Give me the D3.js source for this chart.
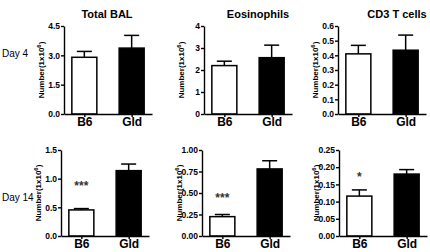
<!DOCTYPE html>
<html>
<head>
  <meta charset="utf-8">
  <script src="https://cdn.jsdelivr.net/npm/d3@7"></script>
  <style>
    body { margin: 0; background: #fff; }
    text { font-family: Arial, "Liberation Sans", sans-serif; }
    .axis path, .axis line { stroke: #000; stroke-width: 1.4px; }
    .axis text { font-size: 8.5px; font-weight: bold; fill: #000; }
    .xaxis text { font-size: 12px; }
  </style>
</head>
<body>
<svg id="chart" width="430" height="252"></svg>
<script>
  // groups on the x axis
  var groups = ['B6', 'Gld'];
  var titles = ['Total BAL', 'Eosinophils', 'CD3 T cells'];
  var days = ['Day 4', 'Day 14'];

  // means and upper error ends, [B6, Gld]
  var day4Means = [[2.9, 3.37], [2.2, 2.56], [0.41, 0.435]];
  var day4Upper = [[3.2, 4.02], [2.4, 3.13], [0.468, 0.538]];
  var day14Means = [[0.455, 1.14], [0.225, 0.78], [0.116, 0.18]];
  var day14Upper = [[0.478, 1.255], [0.25, 0.875], [0.134, 0.193]];

  // y axis tick values per panel
  var day4Ticks = [[0, 1.5, 3.0, 4.5], [0, 1, 2, 3, 4], [0, 0.1, 0.2, 0.3, 0.4, 0.5, 0.6]];
  var day14Ticks = [[0, 0.5, 1.0, 1.5], [0, 0.25, 0.5, 0.75, 1.0], [0, 0.05, 0.1, 0.15, 0.2, 0.25]];
  var day4Fmt = ['.1f', '.0f', '.1f'];
  var day14Fmt = ['.1f', '.2f', '.2f'];
  // significance marks above the B6 bar, and the value they sit at
  var day14Stars = ['***', '***', '*'];
  var day14StarAt = [0.9, 0.47, 0.178];

  var svg = d3.select('#chart');

  var rows = [
    { label: days[0], means: day4Means, upper: day4Upper, ticks: day4Ticks, fmt: day4Fmt, stars: null,
      top: 26, bottom: 114, labelY: 57, axisX: [64, 204, 338] },
    { label: days[1], means: day14Means, upper: day14Upper, ticks: day14Ticks, fmt: day14Fmt,
      stars: day14Stars, starAt: day14StarAt,
      top: 150, bottom: 236, labelY: 201, axisX: [61, 202, 339] }
  ];
  var titleX = [107, 258, 397];
  var plotW = 88, barW = 25;

  rows.forEach(function (row, r) {
    svg.append('text')
      .attr('x', 2).attr('y', row.labelY)
      .style('font-size', '10px')
      .text(row.label);

    titles.forEach(function (title, i) {
      var x0 = row.axisX[i];
      var ticks = row.ticks[i];
      var g = svg.append('g').attr('transform', 'translate(' + x0 + ',0)');

      var x = d3.scalePoint().domain(groups).range([0, plotW]).padding(0.43);
      var y = d3.scaleLinear().domain([0, d3.max(ticks)]).range([row.bottom, row.top]);

      if (r === 0) {
        svg.append('text')
          .attr('x', titleX[i]).attr('y', 18)
          .attr('text-anchor', 'middle')
          .style('font-size', '11px').style('font-weight', 'bold')
          .text(title);
      }

      // bars
      g.selectAll('rect')
        .data(groups)
        .enter()
        .append('rect')
        .attr('x', function (d) { return x(d) - barW / 2; })
        .attr('y', function (d, j) { return y(row.means[i][j]); })
        .attr('width', barW)
        .attr('height', function (d, j) { return row.bottom - y(row.means[i][j]); })
        .attr('fill', function (d, j) { return j === 0 ? '#fff' : '#000'; })
        .attr('stroke', '#000')
        .attr('stroke-width', 1.5);

      // error bars (upper only)
      groups.forEach(function (d, j) {
        var cx = x(d);
        g.append('line')
          .attr('x1', cx).attr('x2', cx)
          .attr('y1', y(row.means[i][j])).attr('y2', y(row.upper[i][j]))
          .attr('stroke', '#000').attr('stroke-width', 1.5);
        g.append('line')
          .attr('x1', cx - 7.5).attr('x2', cx + 7.5)
          .attr('y1', y(row.upper[i][j])).attr('y2', y(row.upper[i][j]))
          .attr('stroke', '#000').attr('stroke-width', 1.5);
      });

      // y axis
      g.append('g')
        .attr('class', 'axis')
        .call(d3.axisLeft(y).tickValues(ticks).tickFormat(d3.format(row.fmt[i]))
          .tickSizeInner(3).tickSizeOuter(0).tickPadding(1));

      // x axis
      g.append('g')
        .attr('class', 'axis xaxis')
        .attr('transform', 'translate(0,' + row.bottom + ')')
        .call(d3.axisBottom(x).tickSizeInner(3).tickSizeOuter(0).tickPadding(0));

      // y label
      var yl = g.append('text')
        .attr('transform', 'translate(-20,' + (row.top + row.bottom) / 2 + ') rotate(-90)')
        .attr('text-anchor', 'middle')
        .style('font-size', '8px').style('font-weight', 'bold');
      yl.append('tspan').text('Number(1x10');
      yl.append('tspan').attr('dy', -3).style('font-size', '6px').text('6');
      yl.append('tspan').attr('dy', 3).text(')');

      if (row.stars) {
        g.append('text')
          .attr('x', x(groups[0]))
          .attr('y', y(row.starAt[i]) + 6)
          .attr('text-anchor', 'middle')
          .style('font-size', '12px').style('font-weight', 'bold').style('fill', '#333')
          .text(row.stars[i]);
      }
    });
  });
</script>
</body>
</html>
